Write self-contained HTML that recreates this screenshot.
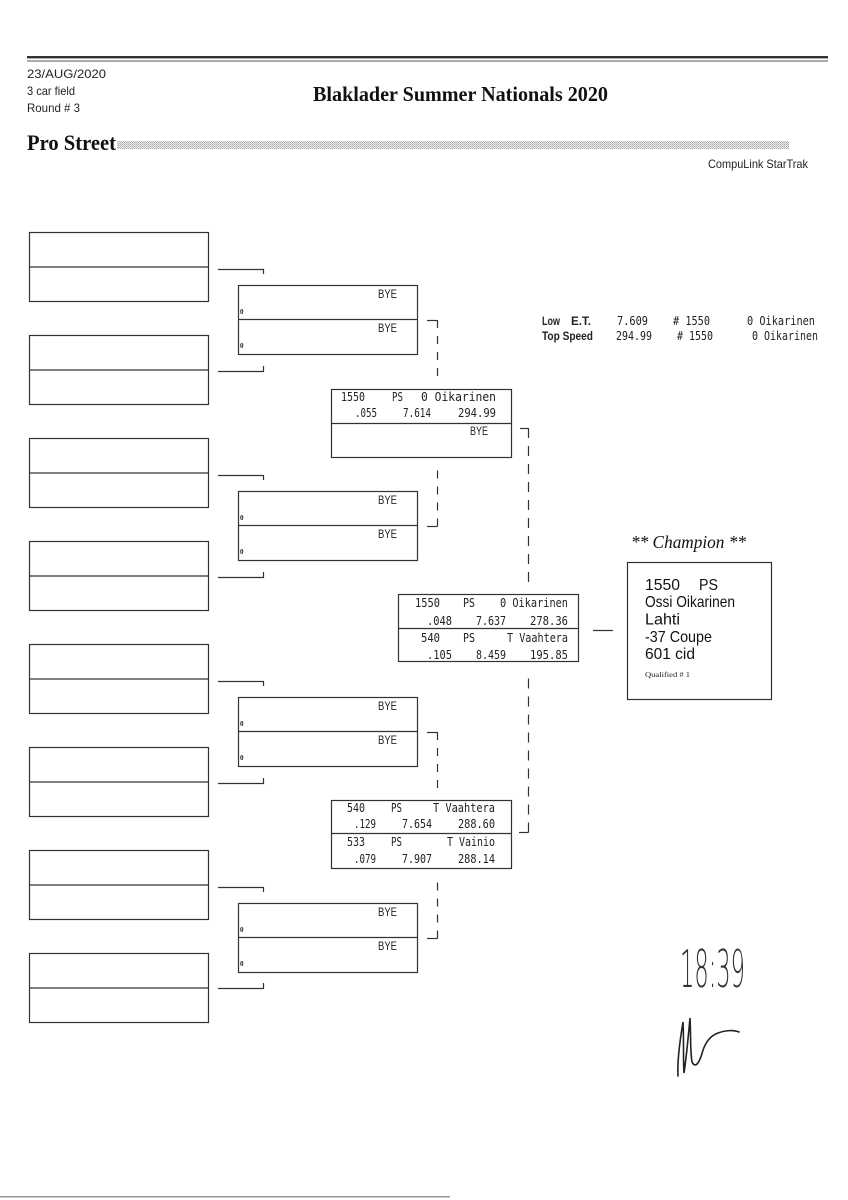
<!DOCTYPE html>
<html><head><meta charset="utf-8"><style>
html,body{margin:0;padding:0;background:#fff;}
svg{display:block;}
.m{font-family:"DejaVu Sans Mono","Liberation Mono",monospace;font-size:12px;fill:#222;}
.b{font-family:"Liberation Sans",sans-serif;font-size:12px;fill:#222;}
.z{font-family:"Liberation Serif",serif;font-size:7px;font-weight:bold;fill:#222;}
.h{font-family:"Liberation Sans",sans-serif;font-size:12px;fill:#222;}
.st{font-family:"Liberation Sans",sans-serif;font-size:12px;font-weight:bold;fill:#222;}
.c{font-family:"Liberation Sans",sans-serif;font-size:16px;fill:#111;}
</style></head><body>
<svg width="848" height="1200" viewBox="0 0 848 1200" xmlns="http://www.w3.org/2000/svg">
<defs>
<pattern id="dots" width="2" height="2" patternUnits="userSpaceOnUse">
<rect width="2" height="2" fill="#f0f0f0"/><rect x="0" y="0" width="1" height="1" fill="#a8a8a8"/><rect x="1" y="1" width="1" height="1" fill="#b8b8b8"/>
</pattern>
</defs>

<!-- header -->
<rect x="27" y="56" width="801" height="2.4" fill="#333"/>
<rect x="27" y="60.5" width="801" height="1" fill="#555"/>
<text class="h" x="27" y="78" textLength="79" lengthAdjust="spacingAndGlyphs">23/AUG/2020</text>
<text class="h" x="27" y="95" textLength="48" lengthAdjust="spacingAndGlyphs">3 car field</text>
<text class="h" x="27" y="112" textLength="53" lengthAdjust="spacingAndGlyphs">Round # 3</text>
<text x="313" y="101" font-family="Liberation Serif,serif" font-weight="bold" font-size="21" fill="#111" textLength="295" lengthAdjust="spacingAndGlyphs">Blaklader Summer Nationals 2020</text>
<text x="27" y="150" font-family="Liberation Serif,serif" font-weight="bold" font-size="22" fill="#111" textLength="89" lengthAdjust="spacingAndGlyphs">Pro Street</text>
<rect x="117" y="141" width="672" height="8" fill="url(#dots)"/>
<text class="h" x="708" y="168" textLength="100" lengthAdjust="spacingAndGlyphs">CompuLink StarTrak</text>

<g fill="none" stroke="#333" stroke-width="1.2">
<!-- round 1 boxes -->
<rect x="29.5" y="232.5" width="179" height="69"/><line x1="29.5" y1="267" x2="208.5" y2="267"/>
<rect x="29.5" y="335.5" width="179" height="69"/><line x1="29.5" y1="370" x2="208.5" y2="370"/>
<rect x="29.5" y="438.5" width="179" height="69"/><line x1="29.5" y1="473" x2="208.5" y2="473"/>
<rect x="29.5" y="541.5" width="179" height="69"/><line x1="29.5" y1="576" x2="208.5" y2="576"/>
<rect x="29.5" y="644.5" width="179" height="69"/><line x1="29.5" y1="679" x2="208.5" y2="679"/>
<rect x="29.5" y="747.5" width="179" height="69"/><line x1="29.5" y1="782" x2="208.5" y2="782"/>
<rect x="29.5" y="850.5" width="179" height="69"/><line x1="29.5" y1="885" x2="208.5" y2="885"/>
<rect x="29.5" y="953.5" width="179" height="69"/><line x1="29.5" y1="988" x2="208.5" y2="988"/>
<!-- round 1 connectors -->
<path d="M218 269.5H263.5V274"/>
<path d="M218 371.5H263.5V366"/>
<path d="M218 475.5H263.5V480"/>
<path d="M218 577.5H263.5V572"/>
<path d="M218 681.5H263.5V686"/>
<path d="M218 783.5H263.5V778"/>
<path d="M218 887.5H263.5V892"/>
<path d="M218 988.5H263.5V983"/>

<!-- round 2 boxes -->
<rect x="238.5" y="285.5" width="179" height="69"/><line x1="238.5" y1="319.5" x2="417.5" y2="319.5"/>
<rect x="238.5" y="491.5" width="179" height="69"/><line x1="238.5" y1="525.5" x2="417.5" y2="525.5"/>
<rect x="238.5" y="697.5" width="179" height="69"/><line x1="238.5" y1="731.5" x2="417.5" y2="731.5"/>
<rect x="238.5" y="903.5" width="179" height="69"/><line x1="238.5" y1="937.5" x2="417.5" y2="937.5"/>
<!-- round 2 connectors -->
<path d="M427 320.5H437.5"/><line x1="437.5" y1="320" x2="437.5" y2="377" stroke-dasharray="8 8"/>
<path d="M427 526.5H437.5"/><line x1="437.5" y1="526.5" x2="437.5" y2="470" stroke-dasharray="8 8"/>
<path d="M427 732.5H437.5"/><line x1="437.5" y1="732" x2="437.5" y2="789" stroke-dasharray="8 8"/>
<path d="M427 938.5H437.5"/><line x1="437.5" y1="938.5" x2="437.5" y2="882" stroke-dasharray="8 8"/>

<!-- round 3 boxes -->
<rect x="331.5" y="389.5" width="180" height="68"/><line x1="331.5" y1="423.5" x2="511.5" y2="423.5"/>
<rect x="331.5" y="800.5" width="180" height="68"/><line x1="331.5" y1="833.5" x2="511.5" y2="833.5"/>
<!-- round 3 connectors -->
<path d="M520 428.5H528.5"/><line x1="528.5" y1="428" x2="528.5" y2="584" stroke-dasharray="10 8"/>
<path d="M519 832.5H528.5"/><line x1="528.5" y1="832.5" x2="528.5" y2="678" stroke-dasharray="10 8"/>

<!-- round 4 box -->
<rect x="398.5" y="594.5" width="180" height="67"/><line x1="398.5" y1="628.5" x2="578.5" y2="628.5"/>
<line x1="593" y1="630.5" x2="613" y2="630.5"/>

<!-- champion box -->
<rect x="627.5" y="562.5" width="144" height="137"/>
</g>

<!-- round 2 text -->
<g>
<text class="b" x="397" y="298" text-anchor="end" textLength="19" lengthAdjust="spacingAndGlyphs">BYE</text>
<text class="z" x="240" y="314">0</text>
<text class="b" x="397" y="332" text-anchor="end" textLength="19" lengthAdjust="spacingAndGlyphs">BYE</text>
<text class="z" x="240" y="348">0</text>

<text class="b" x="397" y="504" text-anchor="end" textLength="19" lengthAdjust="spacingAndGlyphs">BYE</text>
<text class="z" x="240" y="520">0</text>
<text class="b" x="397" y="538" text-anchor="end" textLength="19" lengthAdjust="spacingAndGlyphs">BYE</text>
<text class="z" x="240" y="554">0</text>

<text class="b" x="397" y="710" text-anchor="end" textLength="19" lengthAdjust="spacingAndGlyphs">BYE</text>
<text class="z" x="240" y="726">0</text>
<text class="b" x="397" y="744" text-anchor="end" textLength="19" lengthAdjust="spacingAndGlyphs">BYE</text>
<text class="z" x="240" y="760">0</text>

<text class="b" x="397" y="916" text-anchor="end" textLength="19" lengthAdjust="spacingAndGlyphs">BYE</text>
<text class="z" x="240" y="932">0</text>
<text class="b" x="397" y="950" text-anchor="end" textLength="19" lengthAdjust="spacingAndGlyphs">BYE</text>
<text class="z" x="240" y="966">0</text>
</g>

<!-- round 3 A text -->
<text class="m" x="341" y="401" textLength="24" lengthAdjust="spacingAndGlyphs">1550</text>
<text class="m" x="392" y="401" textLength="11" lengthAdjust="spacingAndGlyphs">PS</text>
<text class="m" x="496" y="401" text-anchor="end" textLength="75" lengthAdjust="spacingAndGlyphs">0 Oikarinen</text>
<text class="m" x="377" y="417" text-anchor="end" textLength="22" lengthAdjust="spacingAndGlyphs">.055</text>
<text class="m" x="431" y="417" text-anchor="end" textLength="28" lengthAdjust="spacingAndGlyphs">7.614</text>
<text class="m" x="496" y="417" text-anchor="end" textLength="38" lengthAdjust="spacingAndGlyphs">294.99</text>
<text class="b" x="488" y="435" text-anchor="end" textLength="18" lengthAdjust="spacingAndGlyphs">BYE</text>

<!-- round 3 B text -->
<text class="m" x="365" y="812" text-anchor="end" textLength="18" lengthAdjust="spacingAndGlyphs">540</text>
<text class="m" x="391" y="812" textLength="11" lengthAdjust="spacingAndGlyphs">PS</text>
<text class="m" x="495" y="812" text-anchor="end" textLength="62" lengthAdjust="spacingAndGlyphs">T Vaahtera</text>
<text class="m" x="376" y="828" text-anchor="end" textLength="22" lengthAdjust="spacingAndGlyphs">.129</text>
<text class="m" x="432" y="828" text-anchor="end" textLength="30" lengthAdjust="spacingAndGlyphs">7.654</text>
<text class="m" x="495" y="828" text-anchor="end" textLength="37" lengthAdjust="spacingAndGlyphs">288.60</text>
<text class="m" x="365" y="846" text-anchor="end" textLength="18" lengthAdjust="spacingAndGlyphs">533</text>
<text class="m" x="391" y="846" textLength="11" lengthAdjust="spacingAndGlyphs">PS</text>
<text class="m" x="495" y="846" text-anchor="end" textLength="48" lengthAdjust="spacingAndGlyphs">T Vainio</text>
<text class="m" x="376" y="863" text-anchor="end" textLength="22" lengthAdjust="spacingAndGlyphs">.079</text>
<text class="m" x="432" y="863" text-anchor="end" textLength="30" lengthAdjust="spacingAndGlyphs">7.907</text>
<text class="m" x="495" y="863" text-anchor="end" textLength="37" lengthAdjust="spacingAndGlyphs">288.14</text>

<!-- round 4 text -->
<text class="m" x="440" y="607" text-anchor="end" textLength="25" lengthAdjust="spacingAndGlyphs">1550</text>
<text class="m" x="463" y="607" textLength="12" lengthAdjust="spacingAndGlyphs">PS</text>
<text class="m" x="568" y="607" text-anchor="end" textLength="68" lengthAdjust="spacingAndGlyphs">0 Oikarinen</text>
<text class="m" x="452" y="625" text-anchor="end" textLength="25" lengthAdjust="spacingAndGlyphs">.048</text>
<text class="m" x="506" y="625" text-anchor="end" textLength="30" lengthAdjust="spacingAndGlyphs">7.637</text>
<text class="m" x="568" y="625" text-anchor="end" textLength="38" lengthAdjust="spacingAndGlyphs">278.36</text>
<text class="m" x="440" y="642" text-anchor="end" textLength="19" lengthAdjust="spacingAndGlyphs">540</text>
<text class="m" x="463" y="642" textLength="12" lengthAdjust="spacingAndGlyphs">PS</text>
<text class="m" x="568" y="642" text-anchor="end" textLength="61" lengthAdjust="spacingAndGlyphs">T Vaahtera</text>
<text class="m" x="452" y="659" text-anchor="end" textLength="25" lengthAdjust="spacingAndGlyphs">.105</text>
<text class="m" x="506" y="659" text-anchor="end" textLength="30" lengthAdjust="spacingAndGlyphs">8.459</text>
<text class="m" x="568" y="659" text-anchor="end" textLength="38" lengthAdjust="spacingAndGlyphs">195.85</text>

<!-- stats -->
<text class="st" x="542" y="325" textLength="18" lengthAdjust="spacingAndGlyphs">Low</text>
<text class="st" x="571" y="325" textLength="20" lengthAdjust="spacingAndGlyphs">E.T.</text>
<text class="m" x="617" y="325" textLength="31" lengthAdjust="spacingAndGlyphs">7.609</text>
<text class="m" x="673" y="325" textLength="37" lengthAdjust="spacingAndGlyphs"># 1550</text>
<text class="m" x="747" y="325" textLength="68" lengthAdjust="spacingAndGlyphs">0 Oikarinen</text>
<text class="st" x="542" y="340" textLength="51" lengthAdjust="spacingAndGlyphs">Top Speed</text>
<text class="m" x="616" y="340" textLength="36" lengthAdjust="spacingAndGlyphs">294.99</text>
<text class="m" x="677" y="340" textLength="36" lengthAdjust="spacingAndGlyphs"># 1550</text>
<text class="m" x="752" y="340" textLength="66" lengthAdjust="spacingAndGlyphs">0 Oikarinen</text>

<!-- champion -->
<text x="631" y="548" font-family="Liberation Serif,serif" font-style="italic" font-size="18" fill="#111" textLength="115" lengthAdjust="spacingAndGlyphs">** Champion **</text>
<text class="c" x="645" y="590" textLength="35" lengthAdjust="spacingAndGlyphs">1550</text>
<text class="c" x="699" y="590" textLength="19" lengthAdjust="spacingAndGlyphs">PS</text>
<text class="c" x="645" y="607" textLength="90" lengthAdjust="spacingAndGlyphs">Ossi Oikarinen</text>
<text class="c" x="645" y="624.5" textLength="35" lengthAdjust="spacingAndGlyphs">Lahti</text>
<text class="c" x="645" y="642" textLength="67" lengthAdjust="spacingAndGlyphs">-37 Coupe</text>
<text class="c" x="645" y="659" textLength="50" lengthAdjust="spacingAndGlyphs">601 cid</text>
<text x="645" y="677" font-family="Liberation Serif,serif" font-size="7.5" fill="#222" textLength="45" lengthAdjust="spacingAndGlyphs">Qualified # 1</text>

<!-- handwriting -->
<text x="680" y="987" font-family="DejaVu Sans ExtraLight,DejaVu Sans,sans-serif" font-weight="200" font-size="52" fill="#333" textLength="65" lengthAdjust="spacingAndGlyphs">18:39</text>
<path d="M678 1076 C677 1060 680 1040 683 1022 C684 1040 683 1060 684 1073 C686 1060 688 1040 690 1018 C691 1035 690 1050 692 1062 C695 1068 699 1065 703 1050 C706 1042 710 1036 718 1033 C726 1030 734 1030 739 1032" fill="none" stroke="#222" stroke-width="1.6" stroke-linecap="round"/>

<!-- bottom scan edge -->
<rect x="0" y="1196" width="450" height="1.5" fill="#999"/>
</svg>
</body></html>
